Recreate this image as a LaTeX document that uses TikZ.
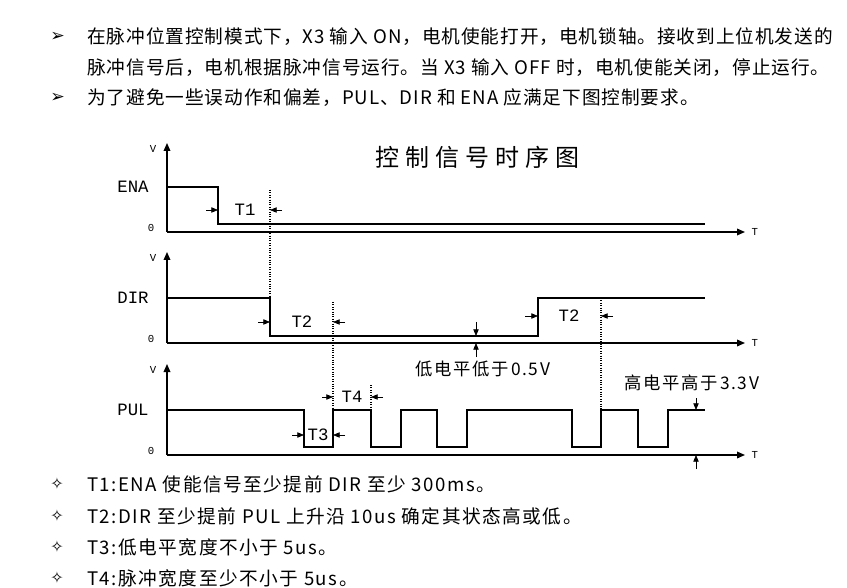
\documentclass[tikz,border=0pt]{standalone}
\usepackage{fontspec}
\setmainfont{Liberation Mono}
\newfontfamily\cjk[LetterSpace=5]{Noto Sans CJK SC}
\newfontfamily\cjkb[LetterSpace=8]{Noto Sans CJK SC}
\newfontfamily\cjkt[LetterSpace=25]{Noto Sans CJK SC}
\newfontfamily\cjkc[LetterSpace=10]{Noto Sans CJK SC}
\newfontfamily\sym{DejaVu Sans}
\usetikzlibrary{arrows.meta,calc}
\begin{document}
\begin{tikzpicture}[x=0.75pt,y=-0.75pt,
  sig/.style={line width=1.1pt},
  ax/.style={line width=1pt,-{Triangle[length=6pt,width=5pt]}},
  dim/.style={line width=0.6pt,-{Triangle[length=5pt,width=4pt]}},
  dots/.style={line width=0.8pt,densely dotted},
  small/.style={font=\fontsize{8pt}{9pt}\selectfont},
  lab/.style={font=\fontsize{13pt}{15pt}\selectfont},
  txt/.style={anchor=west,inner sep=0pt,font=\cjk\fontsize{14pt}{16pt}\selectfont},
  txtb/.style={anchor=west,inner sep=0pt,font=\cjkb\fontsize{14pt}{16pt}\selectfont},
  ctext/.style={inner sep=0pt,font=\cjkc\fontsize{13pt}{15pt}\selectfont}]
\useasboundingbox (0,0) rectangle (847,588);
% top text
\node[anchor=west,inner sep=0pt,font=\sym\fontsize{13pt}{14pt}\selectfont] (b1) at (50,37) {➢};
\node[txt] (l1) at (87,37) {在脉冲位置控制模式下，X3 输入 ON，电机使能打开，电机锁轴。接收到上位机发送的};
\node[txt] (l2) at (87,68) {脉冲信号后，电机根据脉冲信号运行。当 X3 输入 OFF 时，电机使能关闭，停止运行。};
\node[anchor=west,inner sep=0pt,font=\sym\fontsize{13pt}{14pt}\selectfont] (b2) at (50,98) {➢};
\node[txt] (l3) at (87,98) {为了避免一些误动作和偏差，PUL、DIR 和 ENA 应满足下图控制要求。};
% title
\node[inner sep=0pt,font=\cjkt\fontsize{18pt}{22pt}\selectfont] (title) at (477,157) {控制信号时序图};
% axes coordinates
\coordinate (o1) at (167,232); \coordinate (v1) at (167,143); \coordinate (t1) at (745,232);
\coordinate (o2) at (167,343); \coordinate (v2) at (167,252); \coordinate (t2) at (745,343);
\coordinate (o3) at (167,455); \coordinate (v3) at (167,364); \coordinate (t3) at (745,455);
\foreach \i in {1,2,3}{
  \draw[ax] (o\i) -- (v\i);
  \draw[ax] (o\i) -- (t\i);
  \node[small,anchor=east] at ($(v\i)+(-6,6)$) {V};
  \node[small,anchor=west] at ($(t\i)+(2,0)$) {T};
  \node[small,anchor=east] at ($(o\i)+(-8,-4)$) {0};
}
\node[lab] (ena) at (133,187) {ENA};
\node[lab] (dir) at (133,298) {DIR};
\node[lab] (pul) at (133,410) {PUL};
% signals
\draw[sig] (167,187) -- (218,187) -- (218,224) -- (705,224);
\draw[sig] (167,298) -- (270,298) -- (270,336) -- (538,336) -- (538,298) -- (705,298);
\draw[sig] (167,410) -- (304,410) -- (304,447) -- (333,447) -- (333,410) -- (371,410) -- (371,447) -- (401,447) -- (401,410) -- (437,410) -- (437,447) -- (467,447) -- (467,410) -- (572,410) -- (572,447) -- (601,447) -- (601,410) -- (638,410) -- (638,447) -- (668,447) -- (668,410) -- (705,410);
% dotted guides
\draw[dots] (270,190) -- (270,298);
\draw[dots] (333,302) -- (333,410);
\draw[dots] (601,298) -- (601,410);
\draw[dots] (371,385) -- (371,410);
% T1
\draw[dim] (206,210) -- (218,210);
\node[lab] (T1) at (245,210) {T1};
\draw[dim] (282,210) -- (270,210);
% T2
\draw[dim] (258,322) -- (270,322);
\node[lab] (T2a) at (302,322) {T2};
\draw[dim] (345,322) -- (333,322);
\draw[dim] (525,316) -- (538,316);
\node[lab] (T2b) at (569,316) {T2};
\draw[dim] (613,316) -- (601,316);
% T3
\draw[dim] (292,435) -- (304,435);
\node[lab] (T3) at (318,435) {T3};
\draw[dim] (345,435) -- (333,435);
% T4
\draw[dim] (322,397) -- (333,397);
\node[lab] (T4) at (352,397) {T4};
\draw[dim] (383,397) -- (371,397);
% level markers
\draw[dim] (476,322) -- (476,336);
\draw[dim] (476,357) -- (476,343);
\node[ctext] (low) at (483,369) {低电平低于0.5V};
\draw[dim] (696,398) -- (696,410);
\draw[dim] (696,469) -- (696,455);
\node[ctext] (high) at (692,383) {高电平高于3.3V};
% bottom bullets
\foreach \y/\t in {484/{T1:ENA 使能信号至少提前 DIR 至少 300ms。},516/{T2:DIR 至少提前 PUL 上升沿 10us 确定其状态高或低。},547/{T3:低电平宽度不小于 5us。},578/{T4:脉冲宽度至少不小于 5us。}}{
  \node[anchor=west,inner sep=0pt,font=\sym\fontsize{12pt}{14pt}\selectfont] at (50,\y) {✧};
  \node[txtb] at (87,\y) {\t};
}
\end{tikzpicture}
\end{document}
